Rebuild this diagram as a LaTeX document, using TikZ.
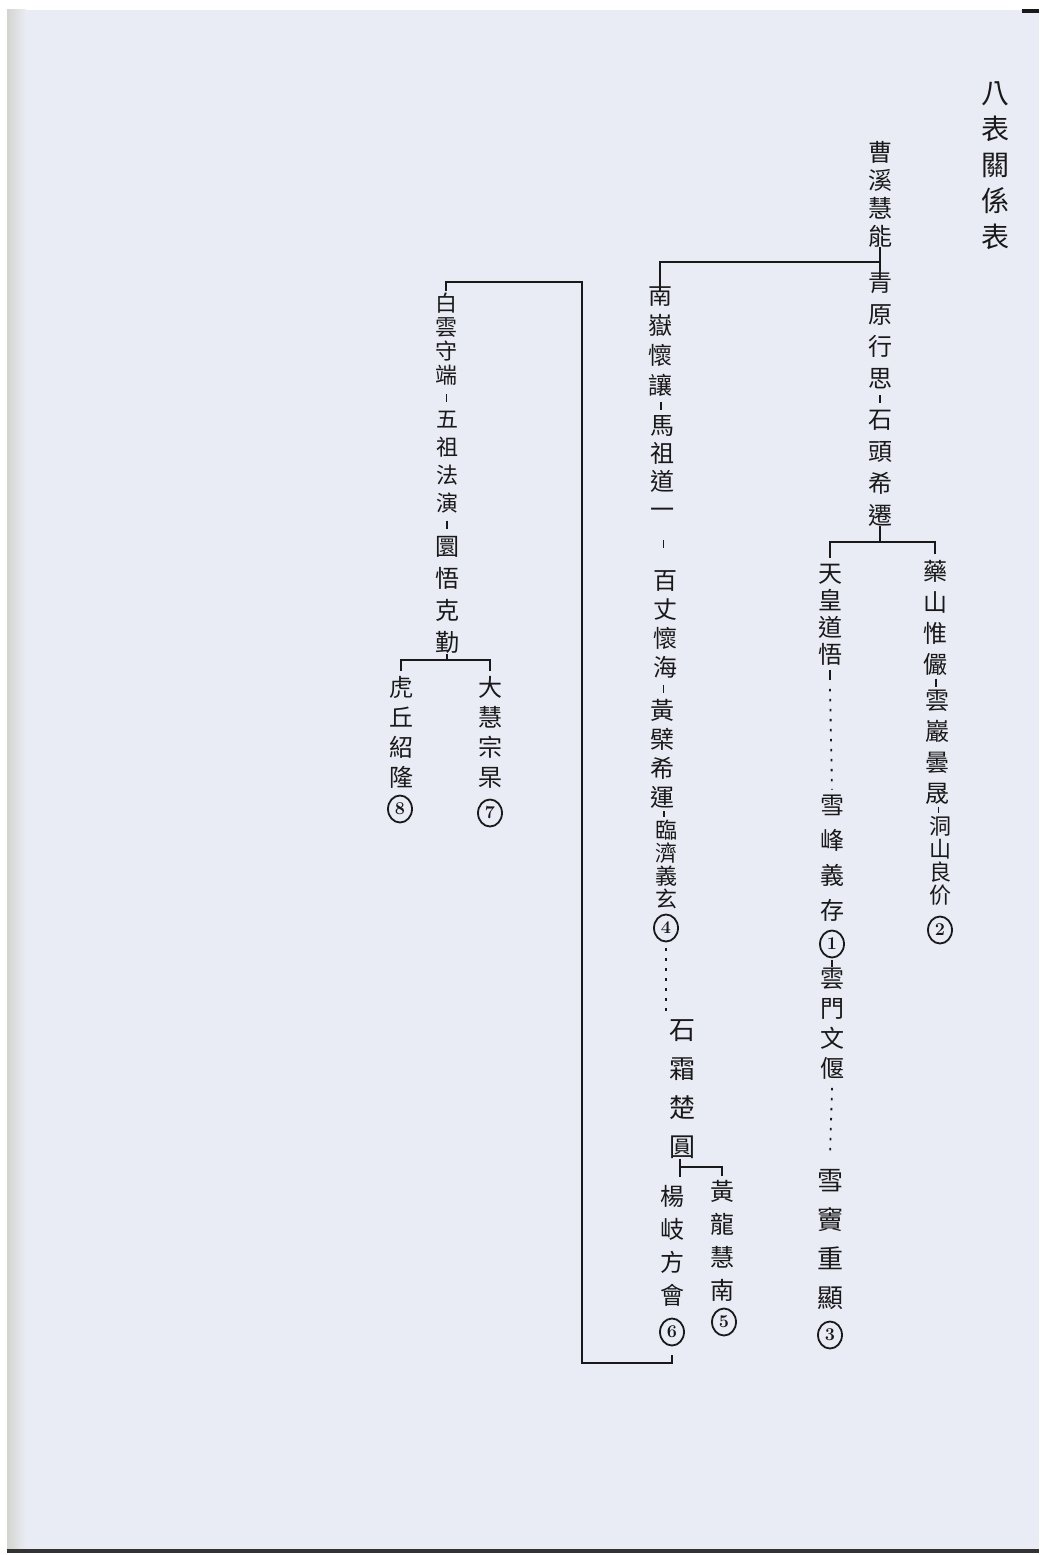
\documentclass[tikz,border=0pt]{standalone}
\usepackage{fontspec}
\newfontfamily\cjk{Noto Sans CJK TC}
\usetikzlibrary{calc}
\definecolor{paper}{RGB}{234,236,245}
\definecolor{edgecol}{RGB}{210,213,206}
\definecolor{ink}{RGB}{25,25,25}
\tikzset{
  zen/.style 2 args={font=\cjk\fontsize{#1}{#2}\selectfont, align=center, inner sep=0pt, text=ink},
  link/.style={draw=ink, line width=1.8pt},
  dotline/.style={draw=ink, line width=1.8pt, dash pattern=on 2.5pt off 7.5pt},
  num/.style={ellipse, draw=ink, line width=1.8pt, minimum width=24pt, minimum height=27pt, inner sep=0pt, font=\fontsize{18}{18}\selectfont\bfseries, text=ink},
}
\usetikzlibrary{shapes.geometric}
\newcommand\ztick[3][4]{\draw[link] ($(#2.south)!0.5!(#3.north)+(0,-#1)$) -- ($(#2.south)!0.5!(#3.north)+(0,#1)$);}
\begin{document}
\begin{tikzpicture}[x=1pt,y=-1pt]
\useasboundingbox (0,0) rectangle (1039,1555);
\fill[white] (0,0) rectangle (1039,1555);
\fill[paper] (7,10) rectangle (1039,1550);
\shade[left color=edgecol, right color=paper] (7,10) rectangle (26,1550);
\fill[ink] (1022,9) rectangle (1039,13);
\fill[black!80] (7,1549) rectangle (1039,1553);

% title
\node[zen={28}{36}] (title) at (995,166) {八\\表\\關\\係\\表};

% Qingyuan line
\node[zen={24}{28}] (cao) at (880,194) {曹\\溪\\慧\\能};
\node[zen={24}{32}] (qing) at (880,330) {青\\原\\行\\思};
\node[zen={24}{32}] (shi) at (880,468) {石\\頭\\希\\遷};
\node[zen={24}{31}] (yao) at (935,618) {藥\\山\\惟\\儼};
\node[zen={24}{31}] (yun) at (937,747) {雲\\巖\\曇\\晟};
\node[zen={22}{23}] (dong) at (940,861) {洞\\山\\良\\价};
\node[num] (n2) at (940,930) {2};
\node[zen={24}{27}] (tian) at (830,615) {天\\皇\\道\\悟};
\node[zen={24}{35}] (xue) at (832,858) {雪\\峰\\義\\存};
\node[num] (n1) at (832,944) {1};
\node[zen={24}{30}] (men) at (832,1024) {雲\\門\\文\\偃};
\node[zen={26}{39}] (dou) at (830,1239) {雪\\竇\\重\\顯};
\node[num] (n3) at (830,1335) {3};

% Nanyue line
\node[zen={24}{30}] (nan) at (660,340) {南\\嶽\\懷\\讓};
\node[zen={24}{28}] (ma) at (662,467) {馬\\祖\\道\\一};
\node[zen={24}{29}] (bai) at (665,624) {百\\丈\\懷\\海};
\node[zen={24}{29}] (huang) at (662,754) {黃\\檗\\希\\運};
\node[zen={22}{23}] (lin) at (666,864) {臨\\濟\\義\\玄};
\node[num] (n4) at (666,928) {4};
\node[zen={26}{39}] (shuang) at (682,1089) {石\\霜\\楚\\圓};
\node[zen={24}{33}] (long) at (722,1241) {黃\\龍\\慧\\南};
\node[num] (n5) at (724,1322) {5};
\node[zen={24}{33}] (yang) at (672,1246) {楊\\岐\\方\\會};
\node[num] (n6) at (672,1332) {6};

% Yangqi continuation
\node[zen={22}{24}] (shou) at (446,339) {白\\雲\\守\\端};
\node[zen={22}{28}] (wuzu) at (447,462) {五\\祖\\法\\演};
\node[zen={24}{32}] (yuanwu) at (447,595) {圜\\悟\\克\\勤};
\node[zen={24}{30}] (dahui) at (490,732) {大\\慧\\宗\\杲};
\node[num] (n7) at (490,813) {7};
\node[zen={24}{30}] (huqiu) at (401,732) {虎\\丘\\紹\\隆};
\node[num] (n8) at (400,809) {8};

% connectors
\coordinate (j1) at (880,262);
\draw[link] (cao.south) -- (j1) -- (qing.north);
\draw[link] (j1) -- (j1 -| nan.north) -- (nan.north);
\ztick{qing}{shi}
\coordinate (j2) at (880,542);
\draw[link] (shi.south) -- (j2);
\draw[link] ($(yao.north)+(0,-6)$) |- (j2) -| ($(tian.north)+(0,-6)$);
\ztick{yao}{yun}
\ztick[3]{yun}{dong}
\draw[link] ($(tian.south)+(0,4)$) -- ($(tian.south)+(0,14)$) coordinate (d1);
\draw[dotline] ($(d1)+(0,9)$) -- ($(xue.north)+(0,-5)$);
\draw[link] ($(n1.south)+(0,1.5)$) -- ($(men.north)+(0,-1.5)$);
\draw[dotline] ($(men.south)+(0,8)$) -- ($(dou.north)+(0,-12)$);

\ztick{nan}{ma}
\ztick{ma}{bai}
\ztick{bai}{huang}
\ztick[3]{huang}{lin}
\draw[dotline] ($(n4.south)+(0,6)$) -- ($(n4.south |- shuang.north)+(0,-8)$);
\coordinate (j4) at ($(shuang.south)+(-2,8)$);
\draw[link] ($(shuang.south)+(-2,0)$) -- (j4) -- ++(0,10);
\draw[link] (j4) -| ($(long.north)+(0,-4)$);

\coordinate (b1) at (582,1363);
\coordinate (b2) at (582,282);
\draw[link] ($(n6.south)+(0,9)$) |- (b1) -- (b2) -| ($(shou.north)+(0,-2)$);

\ztick{shou}{wuzu}
\ztick{wuzu}{yuanwu}
\coordinate (j7) at ($(yuanwu.south)+(0,6)$);
\draw[link] (yuanwu.south) -- (j7);
\draw[link] ($(dahui.north)+(0,-5)$) |- (j7) -| ($(huqiu.north)+(0,-5)$);
\end{tikzpicture}
\end{document}
